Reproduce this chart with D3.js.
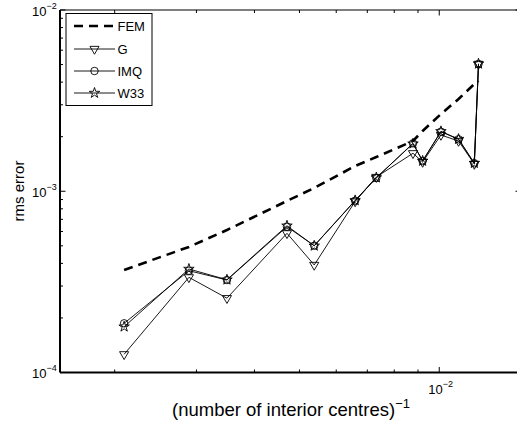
<!DOCTYPE html>
<html>
<head>
<meta charset="utf-8">
<script src="https://cdn.jsdelivr.net/npm/d3@7"></script>
<style>
  html, body { margin: 0; padding: 0; background: #fff; }
  svg { display: block; font-family: "Liberation Sans", Arial, Helvetica, sans-serif; }
</style>
</head>
<body>
<svg id="chart" width="517" height="430"></svg>
<script>
// Inverse number of interior centres (x) and rms errors per method (y)
const invCentres = [2.096e-3, 2.89e-3, 3.49e-3, 4.70e-3, 5.38e-3, 6.59e-3, 7.32e-3,
                    8.78e-3, 9.21e-3, 1.0085e-2, 1.1005e-2, 1.190e-2, 1.215e-2];
const femErr = [3.68e-4, 4.93e-4, 6.11e-4, 8.84e-4, 1.042e-3, 1.378e-3, 1.545e-3,
                1.893e-3, 2.15e-3, 2.668e-3, 3.228e-3, 3.905e-3, 4.058e-3];
const gErr   = [1.26e-4, 3.35e-4, 2.57e-4, 5.86e-4, 3.92e-4, 8.78e-4, 1.198e-3,
                1.62e-3, 1.45e-3, 2.043e-3, 1.893e-3, 1.413e-3, 5.04e-3];
const imqErr = [1.868e-4, 3.644e-4, 3.238e-4, 6.375e-4, 5.008e-4, 8.868e-4, 1.183e-3,
                1.839e-3, 1.468e-3, 2.131e-3, 1.935e-3, 1.426e-3, 5.036e-3];
const w33Err = [1.789e-4, 3.724e-4, 3.25e-4, 6.45e-4, 5.0e-4, 8.9e-4, 1.19e-3,
                1.83e-3, 1.47e-3, 2.14e-3, 1.94e-3, 1.43e-3, 5.05e-3];

const seriesNames = ["FEM", "G", "IMQ", "W33"];
const xMajorTicks = [1e-2];
const xTickExps = ["-2"];
const yMajorTicks = [1e-2, 1e-3, 1e-4];
const yTickExps = ["-2", "-3", "-4"];

const svg = d3.select("#chart");
const L = 60, R = 521, T = 10, B = 372.5;

const x = d3.scaleLog().domain([1.525e-3, 1.5e-2]).range([L, R]);
const y = d3.scaleLog().domain([1e-4, 1e-2]).range([B, T]);

// minor tick positions for each decade
function minorTicks(scale) {
  const [a, b] = scale.domain();
  const out = [];
  for (let e = Math.floor(Math.log10(a)); e <= Math.ceil(Math.log10(b)); e++) {
    for (let k = 2; k <= 9; k++) {
      const v = k * Math.pow(10, e);
      if (v > a && v < b) out.push(v);
    }
  }
  return out;
}

const ax = svg.append("g").attr("stroke", "#000").attr("fill", "none");
// box
ax.append("line").attr("x1", L).attr("x2", R).attr("y1", B).attr("y2", B).attr("stroke-width", 2);
ax.append("line").attr("x1", L).attr("x2", L).attr("y1", T).attr("y2", B).attr("stroke-width", 2);
ax.append("line").attr("x1", L).attr("x2", R).attr("y1", T).attr("y2", T).attr("stroke-width", 1.2);
ax.append("line").attr("x1", R).attr("x2", R).attr("y1", T).attr("y2", B).attr("stroke-width", 1.2);

// x ticks (inward, bottom and top)
minorTicks(x).forEach(v => {
  const px = x(v);
  ax.append("line").attr("x1", px).attr("x2", px).attr("y1", B).attr("y2", B - 3).attr("stroke-width", 1);
  ax.append("line").attr("x1", px).attr("x2", px).attr("y1", T).attr("y2", T + 3).attr("stroke-width", 1);
});
xMajorTicks.forEach(v => {
  const px = x(v);
  ax.append("line").attr("x1", px).attr("x2", px).attr("y1", B).attr("y2", B - 5.5).attr("stroke-width", 1);
  ax.append("line").attr("x1", px).attr("x2", px).attr("y1", T).attr("y2", T + 5.5).attr("stroke-width", 1);
});
// y ticks (inward, left and right)
minorTicks(y).forEach(v => {
  const py = y(v);
  ax.append("line").attr("x1", L).attr("x2", L + 3).attr("y1", py).attr("y2", py).attr("stroke-width", 1);
  ax.append("line").attr("x1", R).attr("x2", R - 3).attr("y1", py).attr("y2", py).attr("stroke-width", 1);
});
yMajorTicks.forEach(v => {
  const py = y(v);
  ax.append("line").attr("x1", L).attr("x2", L + 5.5).attr("y1", py).attr("y2", py).attr("stroke-width", 1);
  ax.append("line").attr("x1", R).attr("x2", R - 5.5).attr("y1", py).attr("y2", py).attr("stroke-width", 1);
});

// tick labels as 10 with superscript exponent
const labels = svg.append("g").attr("fill", "#000");
xMajorTicks.forEach((v, i) => {
  const t = labels.append("text").attr("x", x(v) - 11).attr("y", 394).attr("font-size", 13);
  t.append("tspan").text("10");
  t.append("tspan").attr("font-size", 9).attr("dy", -7).text("\u2212" + xTickExps[i].slice(1));
});
yMajorTicks.forEach((v, i) => {
  const t = labels.append("text").attr("x", 32).attr("y", y(v) + 5.5).attr("font-size", 13);
  t.append("tspan").text("10");
  t.append("tspan").attr("font-size", 9).attr("dy", -7).text("\u2212" + yTickExps[i].slice(1));
});

// axis titles
const xt = labels.append("text").attr("x", 172).attr("y", 416).attr("font-size", 18.5);
xt.append("tspan").text("(number of interior centres)");
xt.append("tspan").attr("font-size", 13).attr("dy", -8).text("\u22121");

labels.append("text")
  .attr("transform", "translate(24,191) rotate(-90)")
  .attr("text-anchor", "middle")
  .attr("font-size", 15)
  .text("rms error");

// series
const line = d3.line().x(d => x(d[0])).y(d => y(d[1]));
const zip = arr => invCentres.map((v, i) => [v, arr[i]]);

const plot = svg.append("g");
plot.append("path").datum(zip(femErr)).attr("d", line)
  .attr("fill", "none").attr("stroke", "#000").attr("stroke-width", 2.6)
  .attr("stroke-dasharray", "9,6");

const triDown = d3.symbol().type(d3.symbolTriangle).size(36);
const circ = d3.symbol().type(d3.symbolCircle).size(44);
const star = d3.symbol().type(d3.symbolStar).size(34);

function drawSeries(arr, sym, rot) {
  const data = zip(arr);
  plot.append("path").datum(data).attr("d", line)
    .attr("fill", "none").attr("stroke", "#000").attr("stroke-width", 0.9);
  plot.append("g").selectAll("path").data(data).join("path")
    .attr("d", sym)
    .attr("transform", d => `translate(${x(d[0])},${y(d[1])}) rotate(${rot})`)
    .attr("fill", "none").attr("stroke", "#000").attr("stroke-width", 0.9);
}
drawSeries(gErr, triDown, 180);
drawSeries(imqErr, circ, 0);
drawSeries(w33Err, star, 0);

// legend
const lg = svg.append("g");
lg.append("rect").attr("x", 66).attr("y", 13.5).attr("width", 86).attr("height", 92)
  .attr("fill", "#fff").attr("stroke", "#000").attr("stroke-width", 1);
const rowsY = [26, 49, 71, 93];
const syms = [null, [triDown, 180], [circ, 0], [star, 0]];
seriesNames.forEach((name, i) => {
  const yy = rowsY[i];
  const ln = lg.append("line").attr("x1", 74).attr("x2", 115).attr("y1", yy).attr("y2", yy)
    .attr("stroke", "#000");
  if (i === 0) {
    ln.attr("stroke-width", 2.6).attr("stroke-dasharray", "9,6");
  } else {
    ln.attr("stroke-width", 0.9);
    lg.append("path").attr("d", syms[i][0])
      .attr("transform", `translate(94.5,${yy}) rotate(${syms[i][1]})`)
      .attr("fill", "none").attr("stroke", "#000").attr("stroke-width", 0.9);
  }
  lg.append("text").attr("x", 117.5).attr("y", yy + 4.5).attr("font-size", 13).text(name);
});
</script>
</body>
</html>
